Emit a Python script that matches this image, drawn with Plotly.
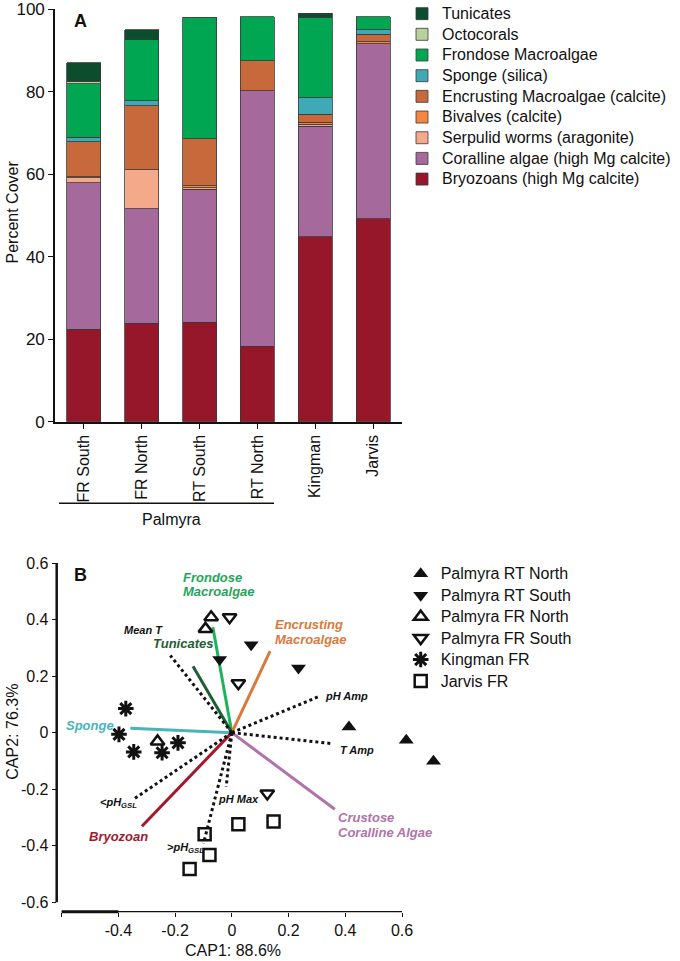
import plotly.graph_objects as go

FONT = "Liberation Sans, Arial, sans-serif"
W, H = 680, 961

# ---------------- Panel A data ----------------
sites = ["FR South", "FR North", "RT South", "RT North", "Kingman", "Jarvis"]
bryozoans = [22.4, 23.9, 24.1, 18.3, 44.9, 49.2]
coralline = [35.6, 27.7, 32.3, 61.9, 26.8, 42.5]
serpulid = [1.2, 9.5, 0.3, 0, 0.4, 0]
bivalves = [0.2, 0, 0.5, 0, 0.5, 0.4]
encrusting = [8.5, 15.5, 11.4, 7.3, 1.9, 1.8]
sponge = [1.1, 1.2, 0, 0, 4.1, 1.1]
frondose = [13.0, 14.8, 29.5, 10.7, 19.5, 3.2]
octocorals = [0.5, 0, 0, 0, 0, 0]
tunicates = [4.5, 2.4, 0, 0, 0.9, 0]

bar_names = ["Bryozoans (high Mg calcite)", "Coralline algae (high Mg calcite)",
             "Serpulid worms (aragonite)", "Bivalves (calcite)",
             "Encrusting Macroalgae (calcite)", "Sponge (silica)",
             "Frondose Macroalgae", "Octocorals", "Tunicates"]
bar_values = [bryozoans, coralline, serpulid, bivalves, encrusting, sponge,
              frondose, octocorals, tunicates]
bar_colors = ["#951729", "#a56a9b", "#f5a98b", "#f58540", "#c8693b",
              "#3fa9b5", "#00a651", "#b9cf9c", "#0b4d2c"]

# ---------------- Panel B data ----------------
rt_north_x = [0.413, 0.615, 0.711]
rt_north_y = [0.020, -0.027, -0.101]
rt_south_x = [-0.043, 0.068, 0.235]
rt_south_y = [0.259, 0.311, 0.229]
fr_north_x = [-0.073, -0.093, -0.262]
fr_north_y = [0.408, 0.367, -0.031]
fr_south_x = [-0.008, 0.023, 0.125]
fr_south_y = [0.408, 0.175, -0.215]
kingman_x = [-0.374, -0.398, -0.346, -0.246, -0.190]
kingman_y = [0.085, -0.006, -0.068, -0.071, -0.036]
jarvis_x = [-0.096, -0.079, -0.149, 0.023, 0.147]
jarvis_y = [-0.359, -0.433, -0.482, -0.324, -0.314]

species_vec_names = ["Frondose", "Tunicates", "Encrusting", "Sponge", "Bryozoan", "CCA"]
species_vec_x = [-0.067, -0.137, 0.135, -0.358, -0.317, 0.363]
species_vec_y = [0.373, 0.235, 0.288, 0.016, -0.331, -0.271]
species_vec_colors = ["#1db35a", "#1d5e34", "#d9793b", "#4bb3ba", "#a3182b", "#b073a9"]

env_vec_names = ["Mean T", "pH Amp", "T Amp", "<pH GSL", "pH Max", ">pH GSL"]
env_vec_x = [-0.217, 0.305, 0.355, -0.343, -0.020, -0.100]
env_vec_y = [0.273, 0.127, -0.039, -0.233, -0.192, -0.392]

cap_ticks = [-0.6, -0.4, -0.2, 0, 0.2, 0.4, 0.6]

fig = go.Figure()

# bars
for name, vals, col in zip(bar_names, bar_values, bar_colors):
    fig.add_trace(go.Bar(
        x=sites, y=[v if v > 0 else None for v in vals],
        name='<span style="font-size:16px">' + name + '</span>',
        marker=dict(color=col, line=dict(color="#3a3a3a", width=0.8)),
        width=0.59, xaxis="x", yaxis="y", legend="legend"))

# vectors
for nm, ex, ey, col in zip(species_vec_names, species_vec_x, species_vec_y, species_vec_colors):
    fig.add_trace(go.Scatter(x=[0, ex], y=[0, ey], mode="lines",
                             line=dict(color=col, width=3), showlegend=False,
                             xaxis="x2", yaxis="y2", cliponaxis=False, hoverinfo="skip"))
for nm, ex, ey in zip(env_vec_names, env_vec_x, env_vec_y):
    fig.add_trace(go.Scatter(x=[0, ex], y=[0, ey], mode="lines",
                             line=dict(color="#111", width=3, dash="dot"), showlegend=False,
                             xaxis="x2", yaxis="y2", cliponaxis=False, hoverinfo="skip"))

# points
groups = [
    ("Palmyra RT North", rt_north_x, rt_north_y, "triangle-up", 13, 0),
    ("Palmyra RT South", rt_south_x, rt_south_y, "triangle-down", 13, 0),
    ("Palmyra FR North", fr_north_x, fr_north_y, "triangle-up-open", 12, 2.5),
    ("Palmyra FR South", fr_south_x, fr_south_y, "triangle-down-open", 12, 2.5),
    ("Kingman FR", kingman_x, kingman_y, "asterisk-open", 13, 3),
    ("Jarvis FR", jarvis_x, jarvis_y, "square-open", 12, 2.5),
]
for nm, gx, gy, sym, sz, lw in groups:
    fig.add_trace(go.Scatter(
        x=gx, y=gy, mode="markers",
        name='<span style="font-size:16px">' + nm + '</span>',
        marker=dict(symbol=sym, size=sz, color="#111", line=dict(color="#111", width=lw)),
        xaxis="x2", yaxis="y2", legend="legend2", cliponaxis=False))


# page pixel -> paper fraction
def px(x):
    return x / W


def py(y):
    return 1 - y / H


axis_common = dict(showgrid=False, zeroline=False, linecolor="#111",
                   ticks="outside", tickcolor="#111", automargin=False,
                   tickfont=dict(family=FONT, size=16, color="#111"))

SCALE_X = 283.6
x2_left = -0.6 - 5.0 / SCALE_X
x2_right = 0.78   # room for the points beyond 0.6; the drawn axis stops at 0.6
y2_bottom = -0.6 - 9.4 / 282.8

fig.update_layout(
    width=W, height=H, margin=dict(l=0, r=0, t=0, b=0, autoexpand=False),
    paper_bgcolor="white", plot_bgcolor="rgba(0,0,0,0)",
    barmode="stack",
    font=dict(family=FONT, color="#111"),
    showlegend=True,
    xaxis=dict(axis_common, domain=[px(55), px(402)], anchor="y", showline=True,
               linewidth=1.6, ticklen=5, tickangle=-90, range=[-0.5, 5.5]),
    yaxis=dict(axis_common, domain=[py(421.7), py(9.3)], anchor="x", showline=True,
               linewidth=1.6, range=[0, 100], tickvals=[0, 20, 40, 60, 80, 100], ticklen=5,
               tickfont=dict(family=FONT, size=17, color="#111")),
    xaxis2=dict(axis_common, domain=[px(56.7), px(402 + (x2_right - 0.6) * SCALE_X)],
                anchor="y2", showline=False,
                range=[x2_left, x2_right], ticklen=4, tickwidth=1.2,
                tickvals=cap_ticks,
                ticktext=[" ", "-0.4", "-0.2", "0", "0.2", "0.4", "0.6"]),
    yaxis2=dict(axis_common, domain=[py(911.7), py(563)], anchor="x2", showline=False,
                range=[y2_bottom, 0.6], ticklen=4, tickwidth=1.2,
                tickvals=cap_ticks,
                ticktext=["-0.6", "-0.4", "-0.2", "0", "0.2", "0.4", "0.6"]),
    legend=dict(x=px(402), y=py(-1.7), xanchor="left", yanchor="top",
                traceorder="reversed", font=dict(family=FONT, size=13.6, color="#111"),
                bgcolor="rgba(0,0,0,0)", itemclick=False),
    legend2=dict(x=px(400.7), y=py(558), xanchor="left", yanchor="top",
                 traceorder="normal", font=dict(family=FONT, size=14.2, color="#111"),
                 bgcolor="rgba(0,0,0,0)", itemclick=False),
)

ann = []


def ptxt(text, x, y, size=16, angle=0):
    ann.append(dict(text=text, x=px(x), y=py(y), xref="paper", yref="paper",
                    xanchor="center", yanchor="middle", showarrow=False, textangle=angle,
                    font=dict(size=size, family=FONT, color="#111")))


# Panel A texts
ptxt("<b>A</b>", 80, 20.7, size=18)
ptxt("Percent Cover", 12, 212.5, angle=-90)
ptxt("Palmyra", 171, 519)
# Panel B texts
ptxt("<b>B</b>", 80, 575, size=18)
ptxt("CAP2: 76.3%", 13, 731.7, angle=-90)
ptxt("CAP1: 88.6%", 233, 950)


def lab(text, x, y, color, size=13, anchor="center"):
    ann.append(dict(text="<b><i>" + text + "</i></b>", x=x, y=y, xref="x2", yref="y2",
                    showarrow=False, xanchor=anchor, yanchor="middle",
                    font=dict(size=size, family=FONT, color=color)))


lab("Frondose", -0.180, 0.549, "#1fa55a", anchor="left")
lab("Macroalgae", -0.180, 0.500, "#1fa55a", anchor="left")
lab("Tunicates", -0.173, 0.316, "#1d5e34")
lab("Encrusting", 0.144, 0.382, "#d9793b", anchor="left")
lab("Macroalgae", 0.144, 0.328, "#d9793b", anchor="left")
lab("Sponge", -0.501, 0.026, "#4bb3ba")
lab("Bryozoan", -0.399, -0.368, "#a3182b")
lab("Crustose", 0.369, -0.301, "#b073a9", anchor="left")
lab("Coralline Algae", 0.369, -0.353, "#b073a9", anchor="left")
lab("Mean T", -0.311, 0.364, "#111", size=11)
lab("pH Amp", 0.323, 0.129, "#111", size=11, anchor="left")
lab("T Amp", 0.375, -0.063, "#111", size=11, anchor="left")
lab("&lt;pH<sub>GSL</sub>", -0.401, -0.248, "#111", size=11)
lab("pH Max", 0.025, -0.233, "#111", size=11)
lab("&gt;pH<sub>GSL</sub>", -0.165, -0.407, "#111", size=11)

fig.update_layout(annotations=ann)

shapes = [
    # Palmyra grouping bar
    dict(type="line", xref="paper", yref="paper", x0=px(59), x1=px(274),
         y0=py(503.3), y1=py(503.3), line=dict(color="#111", width=1.6)),
    # panel B axis lines
    dict(type="line", xref="x2", yref="paper", x0=-0.6, x1=0.6,
         y0=py(911.7), y1=py(911.7), line=dict(color="#111", width=1.2)),
    dict(type="line", xref="x2", yref="paper", x0=-0.6, x1=-0.4,
         y0=py(911.7), y1=py(911.7), line=dict(color="#111", width=3)),
    dict(type="line", xref="paper", yref="y2", x0=px(56.7), x1=px(56.7),
         y0=-0.6, y1=0.6, line=dict(color="#111", width=2.5)),
]
fig.update_layout(shapes=shapes)

# remove the default page margin so the figure sits at the window origin
fig.write_html("out.html", config={"displayModeBar": False},
               post_script="document.body.style.margin='0';document.body.style.overflow='hidden';")
